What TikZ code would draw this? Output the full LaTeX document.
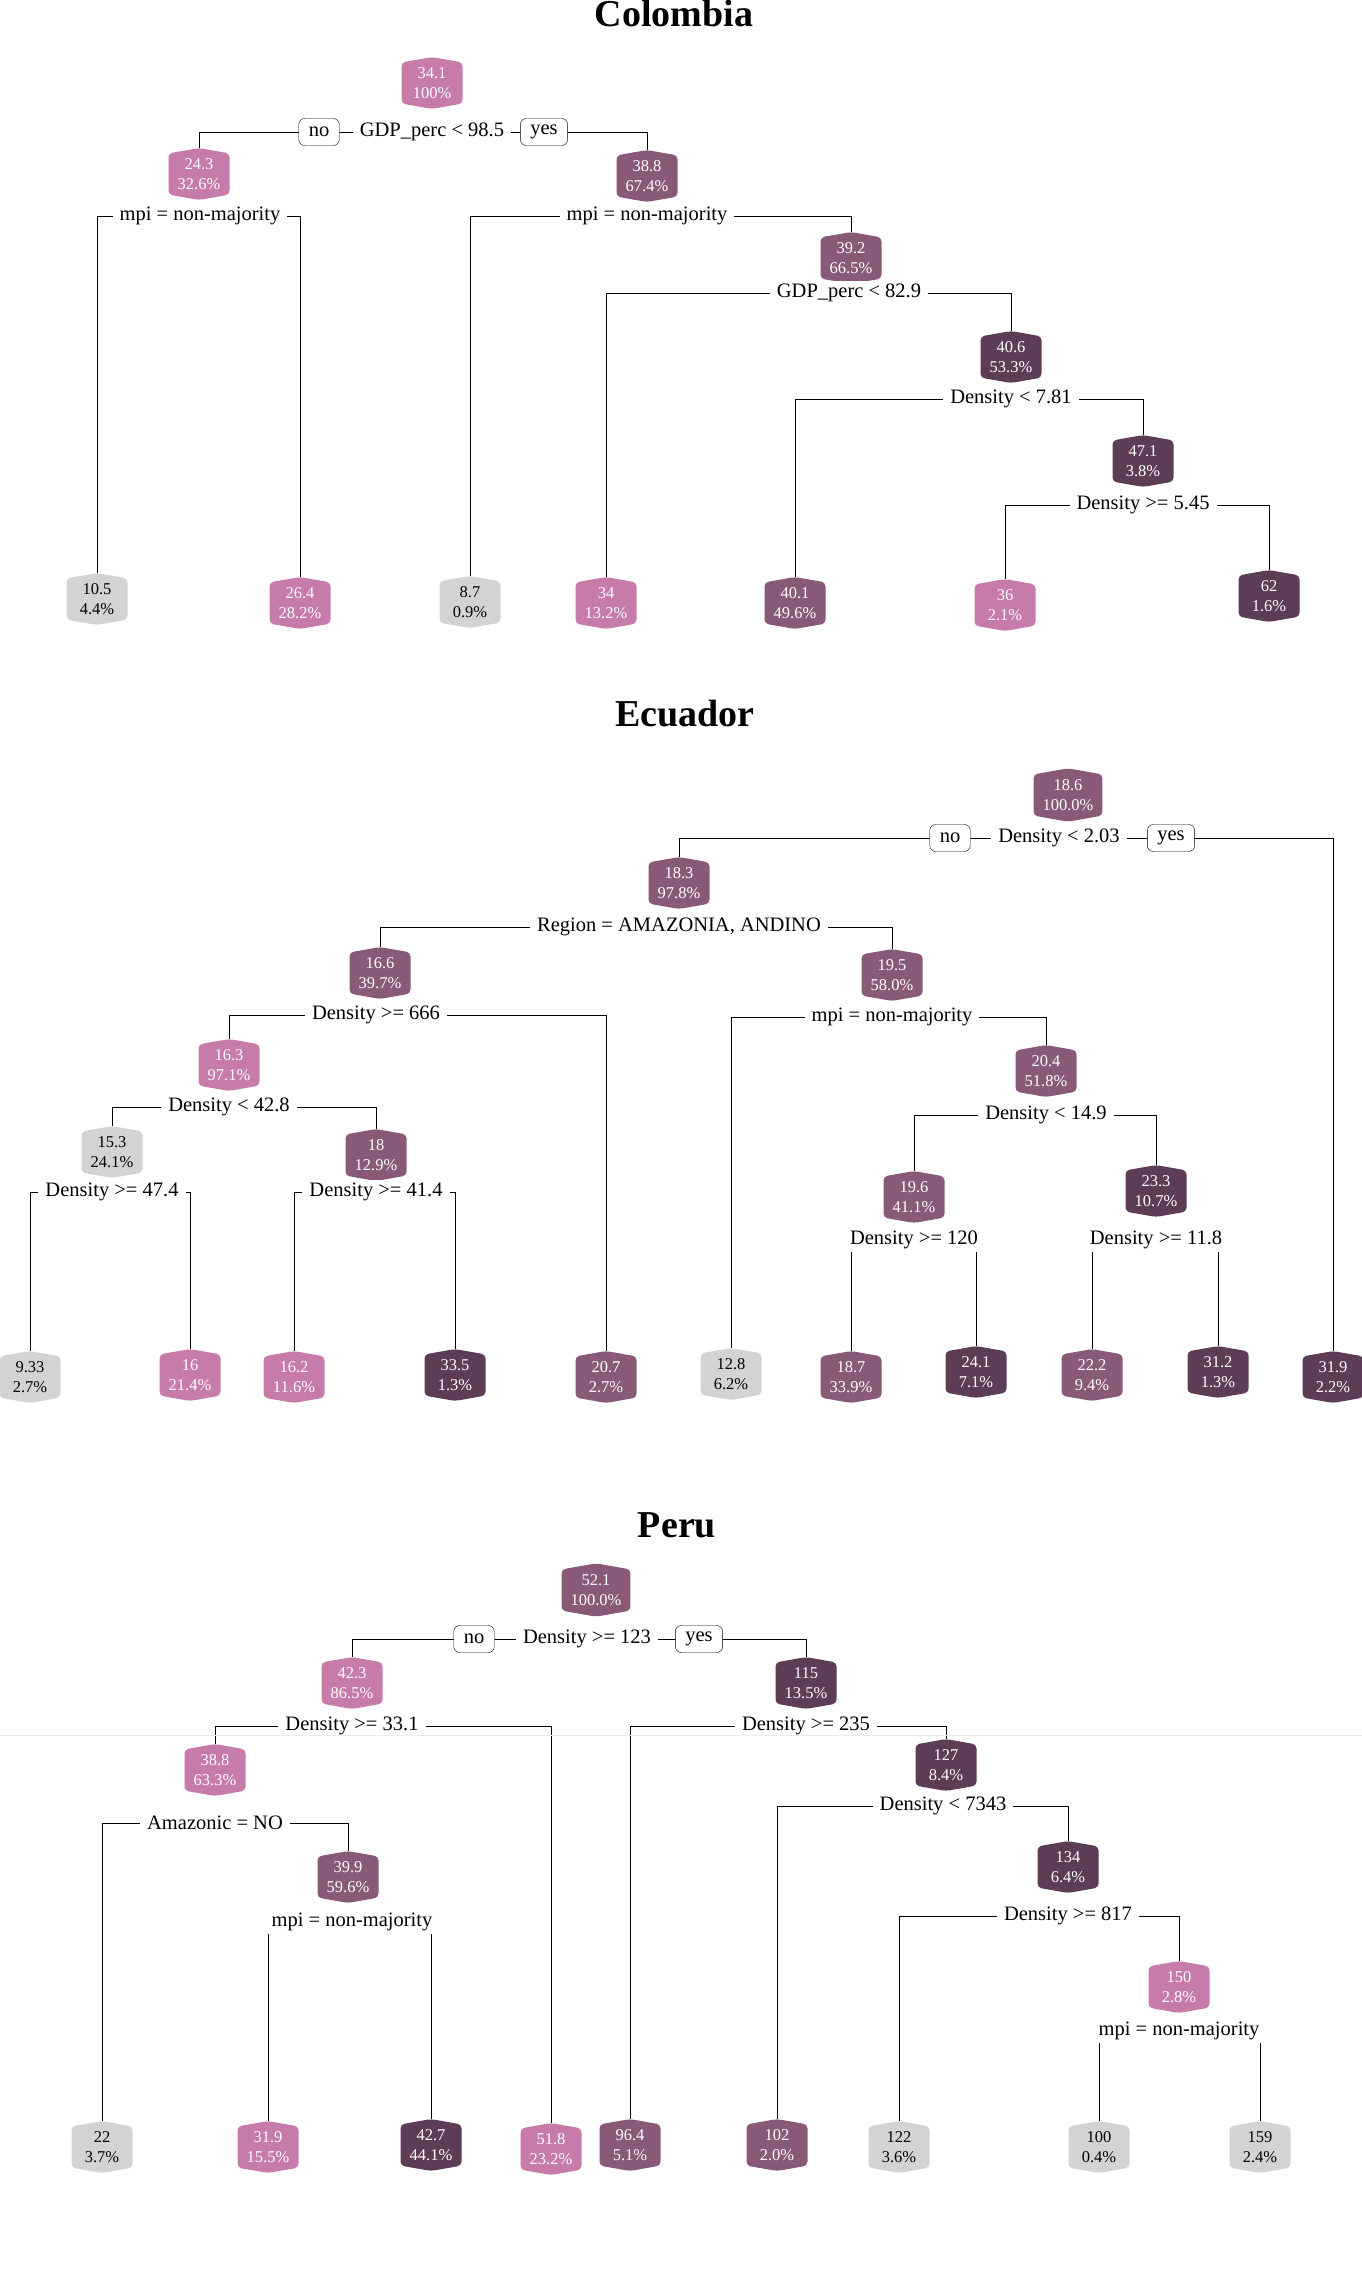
\documentclass[tikz,border=0pt]{standalone}
\usepackage{fontspec}
\setmainfont{Liberation Serif}
\usepackage{xcolor}
\usepackage{tikz}
\usetikzlibrary{shapes.symbols}
\definecolor{leafgray}{HTML}{D2D3D3}
\definecolor{rosepink}{HTML}{C67BA9}
\definecolor{mauve}{HTML}{895A77}
\definecolor{plum}{HTML}{5D3C55}
\pgfdeclarelayer{branches}
\pgfsetlayers{branches,main}

\begin{document}
\begin{tikzpicture}[x=1pt, y=-1pt,
        valbox/.style={shape=signal, signal to=north and south, signal pointer angle=160, rounded corners=4pt, align=center, font=\fontsize{16.5}{20}\selectfont, inner xsep=9pt, inner ysep=5pt, minimum width=61pt, text=white},
        grayval/.style={valbox, fill=leafgray, text=black},
        pinkval/.style={valbox, fill=rosepink},
        mauveval/.style={valbox, fill=mauve},
        plumval/.style={valbox, fill=plum},
        splitlbl/.style={fill=white, inner xsep=7pt, inner ysep=3pt, font=\fontsize{20.5}{24}\selectfont},
        yesno/.style={draw, rounded corners=6pt, fill=white, font=\fontsize{20.5}{24}\selectfont, inner xsep=10pt, inner ysep=2pt, minimum height=27pt},
        countrytitle/.style={anchor=base, font=\fontsize{38}{44}\selectfont\bfseries},
        branch/.style={draw, line width=1pt}]
        \useasboundingbox (0,0) rectangle (1362,2275);

        % Colombia
        \node [countrytitle] (coltitle) at (674,27) {Colombia};
        \node [pinkval] (col1) at (432,83) {34.1\\100\%};
        \node [splitlbl] (col1s) at (432,132) {GDP\_perc < 98.5};
        \node [yesno] (colno) at (319,132) {no};
        \node [yesno] (colyes) at (544,132) {yes};
        \node [pinkval] (col2) at (199,174) {24.3\\32.6\%};
        \node [splitlbl] (col2s) at (200,216) {mpi = non-majority};
        \node [mauveval] (col3) at (647,176) {38.8\\67.4\%};
        \node [splitlbl] (col3s) at (647,216) {mpi = non-majority};
        \node [mauveval] (col7) at (851,258) {39.2\\66.5\%};
        \node [splitlbl] (col7s) at (849,293) {GDP\_perc < 82.9};
        \node [plumval] (col15) at (1011,357) {40.6\\53.3\%};
        \node [splitlbl] (col15s) at (1011,399) {Density < 7.81};
        \node [plumval] (col31) at (1143,461) {47.1\\3.8\%};
        \node [splitlbl] (col31s) at (1143,505) {Density >= 5.45};
        \node [grayval] (col4) at (97,599) {10.5\\4.4\%};
        \node [pinkval] (col5) at (300,603) {26.4\\28.2\%};
        \node [grayval] (col6) at (470,602) {8.7\\0.9\%};
        \node [pinkval] (col14) at (606,603) {34\\13.2\%};
        \node [mauveval] (col30) at (795,603) {40.1\\49.6\%};
        \node [pinkval] (col62) at (1005,605) {36\\2.1\%};
        \node [plumval] (col63) at (1269,596) {62\\1.6\%};

        % Ecuador
        \node [countrytitle] (ecutitle) at (685,726) {Ecuador};
        \node [mauveval] (ecu1) at (1068,795) {18.6\\100.0\%};
        \node [splitlbl] (ecu1s) at (1059,838) {Density < 2.03};
        \node [yesno] (ecuno) at (950,838) {no};
        \node [yesno] (ecuyes) at (1171,838) {yes};
        \node [mauveval] (ecu2) at (679,883) {18.3\\97.8\%};
        \node [splitlbl] (ecu2s) at (679,927) {Region = AMAZONIA, ANDINO};
        \node [mauveval] (ecu4) at (380,973) {16.6\\39.7\%};
        \node [splitlbl] (ecu4s) at (376,1015) {Density >= 666};
        \node [mauveval] (ecu5) at (892,975) {19.5\\58.0\%};
        \node [splitlbl] (ecu5s) at (892,1017) {mpi = non-majority};
        \node [pinkval] (ecu8) at (229,1065) {16.3\\97.1\%};
        \node [splitlbl] (ecu8s) at (229,1107) {Density < 42.8};
        \node [grayval] (ecu16) at (112,1152) {15.3\\24.1\%};
        \node [splitlbl] (ecu16s) at (112,1192) {Density >= 47.4};
        \node [mauveval] (ecu17) at (376,1155) {18\\12.9\%};
        \node [splitlbl] (ecu17s) at (376,1192) {Density >= 41.4};
        \node [mauveval] (ecu11) at (1046,1071) {20.4\\51.8\%};
        \node [splitlbl] (ecu11s) at (1046,1115) {Density < 14.9};
        \node [mauveval] (ecu22) at (914,1197) {19.6\\41.1\%};
        \node [splitlbl] (ecu22s) at (914,1240) {Density >= 120};
        \node [plumval] (ecu23) at (1156,1191) {23.3\\10.7\%};
        \node [splitlbl] (ecu23s) at (1156,1240) {Density >= 11.8};
        \node [grayval] (ecu32) at (30,1377) {9.33\\2.7\%};
        \node [pinkval] (ecu33) at (190,1375) {16\\21.4\%};
        \node [pinkval] (ecu34) at (294,1377) {16.2\\11.6\%};
        \node [plumval] (ecu35) at (455,1375) {33.5\\1.3\%};
        \node [mauveval] (ecu9) at (606,1377) {20.7\\2.7\%};
        \node [grayval] (ecu10) at (731,1374) {12.8\\6.2\%};
        \node [mauveval] (ecu44) at (851,1377) {18.7\\33.9\%};
        \node [plumval] (ecu45) at (976,1372) {24.1\\7.1\%};
        \node [mauveval] (ecu46) at (1092,1375) {22.2\\9.4\%};
        \node [plumval] (ecu47) at (1218,1372) {31.2\\1.3\%};
        \node [plumval] (ecu3) at (1333,1377) {31.9\\2.2\%};

        % Peru
        \node [countrytitle] (pertitle) at (677,1537) {Peru};
        \node [mauveval] (per1) at (596,1590) {52.1\\100.0\%};
        \node [splitlbl] (per1s) at (587,1639) {Density >= 123};
        \node [yesno] (perno) at (474,1639) {no};
        \node [yesno] (peryes) at (699,1639) {yes};
        \node [pinkval] (per2) at (352,1683) {42.3\\86.5\%};
        \node [splitlbl] (per2s) at (352,1726) {Density >= 33.1};
        \node [plumval] (per3) at (806,1683) {115\\13.5\%};
        \node [splitlbl] (per3s) at (806,1726) {Density >= 235};
        \node [pinkval] (per4) at (215,1770) {38.8\\63.3\%};
        \node [splitlbl] (per4s) at (215,1823) {Amazonic = NO};
        \node [mauveval] (per9) at (348,1877) {39.9\\59.6\%};
        \node [splitlbl] (per9s) at (352,1922) {mpi = non-majority};
        \node [plumval] (per7) at (946,1765) {127\\8.4\%};
        \node [splitlbl] (per7s) at (943,1806) {Density < 7343};
        \node [plumval] (per15) at (1068,1867) {134\\6.4\%};
        \node [splitlbl] (per15s) at (1068,1916) {Density >= 817};
        \node [pinkval] (per31) at (1179,1987) {150\\2.8\%};
        \node [splitlbl] (per31s) at (1179,2031) {mpi = non-majority};
        \node [grayval] (per8) at (102,2147) {22\\3.7\%};
        \node [pinkval] (per18) at (268,2147) {31.9\\15.5\%};
        \node [plumval] (per19) at (431,2145) {42.7\\44.1\%};
        \node [pinkval] (per5) at (551,2149) {51.8\\23.2\%};
        \node [mauveval] (per6) at (630,2145) {96.4\\5.1\%};
        \node [mauveval] (per14) at (777,2145) {102\\2.0\%};
        \node [grayval] (per30) at (899,2147) {122\\3.6\%};
        \node [grayval] (per62) at (1099,2147) {100\\0.4\%};
        \node [grayval] (per63) at (1260,2147) {159\\2.4\%};

        \begin{pgfonlayer}{branches}
        \path [branch] (col1s.center) -| (col2.north);
        \path [branch] (col1s.center) -| (col3.north);
        \path [branch] (col2s.center) -| (col4.north);
        \path [branch] (col2s.center) -| (col5.north);
        \path [branch] (col3s.center) -| (col6.north);
        \path [branch] (col3s.center) -| (col7.north);
        \path [branch] (col7s.center) -| (col14.north);
        \path [branch] (col7s.center) -| (col15.north);
        \path [branch] (col15s.center) -| (col30.north);
        \path [branch] (col15s.center) -| (col31.north);
        \path [branch] (col31s.center) -| (col62.north);
        \path [branch] (col31s.center) -| (col63.north);

        \path [branch] (ecu1s.center) -| (ecu2.north);
        \path [branch] (ecu1s.center) -| (ecu3.north);
        \path [branch] (ecu2s.center) -| (ecu4.north);
        \path [branch] (ecu2s.center) -| (ecu5.north);
        \path [branch] (ecu4s.center) -| (ecu8.north);
        \path [branch] (ecu4s.center) -| (ecu9.north);
        \path [branch] (ecu8s.center) -| (ecu16.north);
        \path [branch] (ecu8s.center) -| (ecu17.north);
        \path [branch] (ecu16s.center) -| (ecu32.north);
        \path [branch] (ecu16s.center) -| (ecu33.north);
        \path [branch] (ecu17s.center) -| (ecu34.north);
        \path [branch] (ecu17s.center) -| (ecu35.north);
        \path [branch] (ecu5s.center) -| (ecu10.north);
        \path [branch] (ecu5s.center) -| (ecu11.north);
        \path [branch] (ecu11s.center) -| (ecu22.north);
        \path [branch] (ecu11s.center) -| (ecu23.north);
        \path [branch] (ecu22s.center) -| (ecu44.north);
        \path [branch] (ecu22s.center) -| (ecu45.north);
        \path [branch] (ecu23s.center) -| (ecu46.north);
        \path [branch] (ecu23s.center) -| (ecu47.north);

        \path [branch] (per1s.center) -| (per2.north);
        \path [branch] (per1s.center) -| (per3.north);
        \path [branch] (per2s.center) -| (per4.north);
        \path [branch] (per2s.center) -| (per5.north);
        \path [branch] (per4s.center) -| (per8.north);
        \path [branch] (per4s.center) -| (per9.north);
        \path [branch] (per9s.center) -| (per18.north);
        \path [branch] (per9s.center) -| (per19.north);
        \path [branch] (per3s.center) -| (per6.north);
        \path [branch] (per3s.center) -| (per7.north);
        \path [branch] (per7s.center) -| (per14.north);
        \path [branch] (per7s.center) -| (per15.north);
        \path [branch] (per15s.center) -| (per30.north);
        \path [branch] (per15s.center) -| (per31.north);
        \path [branch] (per31s.center) -| (per62.north);
        \path [branch] (per31s.center) -| (per63.north);
        \end{pgfonlayer}

        \draw [black!8, line width=1pt] (0,1735) -- (1362,1735);
    \end{tikzpicture}
\end{document}
